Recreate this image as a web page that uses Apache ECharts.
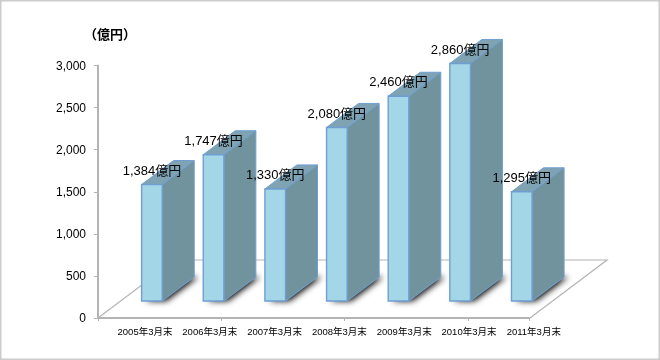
<!DOCTYPE html>
<html><head><meta charset="utf-8">
<style>html,body{margin:0;padding:0;background:#fff}#c{width:660px;height:360px}</style>
<script src="https://cdn.jsdelivr.net/npm/echarts@6/dist/echarts.min.js"></script>
</head><body><div id="c"></div>
<script>
var categories = ['2005年3月末','2006年3月末','2007年3月末','2008年3月末','2009年3月末','2010年3月末','2011年3月末'];
var values = [1384,1747,1330,2080,2460,2860,1295];
var unitLabel = '（億円）';
var valueSuffix = '億円';

var FONT = '"Liberation Sans","Noto Sans CJK JP",sans-serif';
var AXIS = '#b4b4b4';
function fmt(v){return String(v).replace(/\B(?=(\d{3})+$)/g,',');}

// bar geometry relative to the category band
var OFF_X = 12.8, FACE_W = 20.6, DX = 32, DY = 24, BASE_UP = 17, TOP_UP = 20;

function geom(api){
  var i = api.value(0), v = api.value(1);
  var b = api.coord([i,0]), t = api.coord([i,v]);
  var x0 = b[0] + OFF_X, x1 = x0 + FACE_W;
  return {x0:x0,x1:x1,yb:b[1]-BASE_UP,yt:t[1]-TOP_UP};
}
function renderShadow(p,api){
  var g = geom(api);
  return {type:'polygon',shape:{points:[[g.x0,g.yb],[g.x1,g.yb],[g.x1+DX,g.yb-DY],[g.x0+DX,g.yb-DY]]},
    style:{fill:'#70939d',shadowBlur:6,shadowOffsetX:4,shadowOffsetY:0,shadowColor:'rgba(0,0,0,1)'}};
}
function renderBar(p,api){
  var g = geom(api), line = '#6f9fd2';
  return {type:'group',children:[
    {type:'polygon',shape:{points:[[g.x1,g.yb],[g.x1+DX,g.yb-DY],[g.x1+DX,g.yt-DY],[g.x1,g.yt]]},
      style:{fill:'#70939d',stroke:line,lineWidth:1}},
    {type:'polygon',shape:{points:[[g.x0,g.yt],[g.x1,g.yt],[g.x1+DX,g.yt-DY],[g.x0+DX,g.yt-DY]]},
      style:{fill:'#7fa3b2',stroke:line,lineWidth:1}},
    {type:'rect',shape:{x:g.x0,y:g.yt,width:FACE_W,height:g.yb-g.yt},
      style:{fill:'#a3d6e6',stroke:line,lineWidth:1.4}}
  ]};
}
function renderLabel(p,api){
  var g = geom(api);
  return {type:'text',style:{x:(g.x0+g.x1)/2,y:g.yt-13.5,text:fmt(api.value(1))+valueSuffix,
    fill:'#000',font:'13px '+FONT,textAlign:'center',textVerticalAlign:'middle'}};
}
var data = values.map(function(v,i){return [i,v];});
function custom(fn,z){
  return {type:'custom',xAxisIndex:0,yAxisIndex:1,renderItem:fn,data:data,z:z,silent:true,clip:false,
    encode:{x:0,y:1}};
}
var chart = echarts.init(document.getElementById('c'),null,{renderer:'canvas'});
chart.setOption({
  animation:false,
  backgroundColor:'#fff',
  grid:[
    {left:98,top:65.5,width:431.5,height:252.5},
    {left:112.6,top:65.5,width:453.6,height:252.5},
    {left:98,top:66.5,width:431.5,height:252.5}
  ],
  xAxis:[
    {type:'category',gridIndex:0,data:categories,
      axisLine:{lineStyle:{color:AXIS,width:2}},
      axisTick:{show:true,length:3,lineStyle:{color:AXIS}},
      axisLabel:{show:false},splitLine:{show:false}},
    {type:'category',gridIndex:1,data:categories,
      axisLine:{show:false},axisTick:{show:false},
      axisLabel:{color:'#000',fontSize:9.5,fontFamily:FONT,margin:10,interval:0}},
    {type:'category',gridIndex:2,data:categories,show:false}
  ],
  yAxis:[
    {type:'value',gridIndex:0,min:0,max:3000,interval:500,
      axisLine:{show:true,lineStyle:{color:AXIS,width:2}},
      axisTick:{show:true,length:4,lineStyle:{color:AXIS}},
      splitLine:{show:false},axisLabel:{show:false}},
    {type:'value',gridIndex:0,min:0,max:3079,show:false,splitLine:{show:false}},
    {type:'value',gridIndex:1,min:0,max:3000,show:false,splitLine:{show:false}},
    {type:'value',gridIndex:2,min:0,max:3000,interval:500,
      axisLine:{show:false},axisTick:{show:false},splitLine:{show:false},
      axisLabel:{color:'#000',fontSize:12,fontFamily:FONT,margin:12,formatter:function(v){return fmt(v);}}}
  ],
  graphic:[
    {type:'rect',z:-1,shape:{x:0.5,y:0.5,width:659,height:359},style:{fill:'#fff',stroke:'#cccccc',lineWidth:2}},
    {type:'polyline',z:0,shape:{points:[[98,318],[175,260],[607,260],[530,318]]},style:{fill:null,stroke:AXIS,lineWidth:1.2}},
    {type:'text',z:10,x:84,y:29,style:{text:unitLabel,fill:'#000',font:'bold 13px '+FONT}}
  ],
  series:[custom(renderShadow,2),custom(renderBar,3),custom(renderLabel,4)]
});
</script></body></html>
